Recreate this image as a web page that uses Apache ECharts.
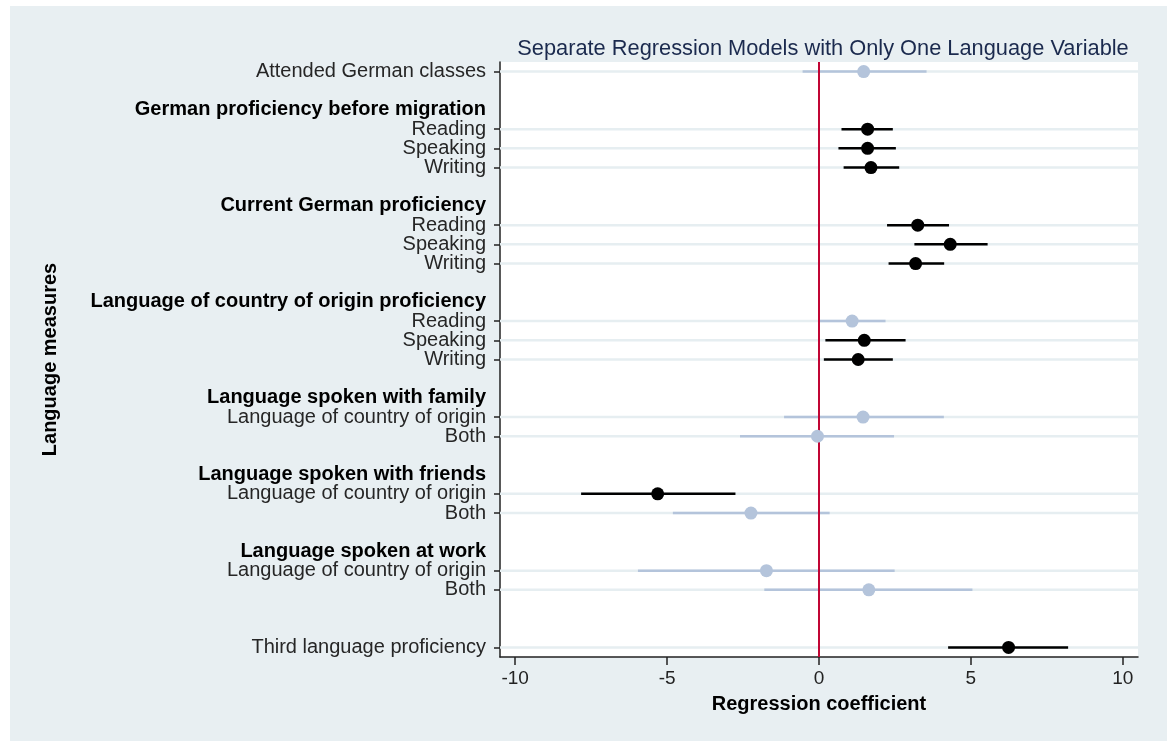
<!DOCTYPE html>
<html>
<head>
<meta charset="utf-8">
<title>Regression coefficients</title>
<script src="https://cdn.jsdelivr.net/npm/echarts@6/dist/echarts.min.js"></script>
<style>
  html, body { margin: 0; padding: 0; background: #fff; }
  #main { width: 1167px; height: 741px; }
</style>
</head>
<body>
<div id="main"></div>
<script>
// rows from top to bottom; headers have no estimate, '' is an empty spacer row
var rowLabels = [
  'Attended German classes', '',
  'German proficiency before migration', 'Reading', 'Speaking', 'Writing', '',
  'Current German proficiency', 'Reading', 'Speaking', 'Writing', '',
  'Language of country of origin proficiency', 'Reading', 'Speaking', 'Writing', '',
  'Language spoken with family', 'Language of country of origin', 'Both', '',
  'Language spoken with friends', 'Language of country of origin', 'Both', '',
  'Language spoken at work', 'Language of country of origin', 'Both', '', '',
  'Third language proficiency'
];
var headerRows = [2, 7, 12, 17, 21, 25];

// estimates and 95% CI per row (null where no model)
var estimate = [1.47, null, null, 1.60, 1.60, 1.71, null, null, 3.25, 4.32, 3.18, null,
  null, 1.09, 1.49, 1.29, null, null, 1.45, -0.05, null, null, -5.31, -2.24, null,
  null, -1.73, 1.64, null, null, 6.24];
var ciLow = [-0.54, null, null, 0.74, 0.64, 0.81, null, null, 2.24, 3.14, 2.29, null,
  null, -0.02, 0.21, 0.16, null, null, -1.15, -2.60, null, null, -7.83, -4.81, null,
  null, -5.96, -1.80, null, null, 4.25];
var ciHigh = [3.54, null, null, 2.43, 2.53, 2.64, null, null, 4.28, 5.55, 4.12, null,
  null, 2.19, 2.85, 2.43, null, null, 4.11, 2.47, null, null, -2.75, 0.35, null,
  null, 2.49, 5.05, null, null, 8.20];
// 1 = significant (black), 0 = not significant (light blue)
var significant = [0, 0, 0, 1, 1, 1, 0, 0, 1, 1, 1, 0, 0, 0, 1, 1, 0, 0, 0, 0, 0, 0, 1, 0, 0,
  0, 0, 0, 0, 0, 1];
var xTicks = [-10, -5, 0, 5, 10];

var BLACK = '#000000';
var LIGHT = '#b4c4db';
var GRID = '#e6eef1';
var FONT = 'Liberation Sans';

var dataRows = [];
rowLabels.forEach(function (l, i) { if (estimate[i] !== null) dataRows.push(i); });

var ciData = [], dotData = [];
dataRows.forEach(function (i) {
  ciData.push([ciLow[i], ciHigh[i], i, significant[i]]);
  dotData.push({ value: [estimate[i], i], itemStyle: { color: significant[i] ? BLACK : LIGHT, opacity: 1 } });
});

var chart = echarts.init(document.getElementById('main'));
chart.setOption({
  animation: false,
  backgroundColor: '#ffffff',
  textStyle: { fontFamily: FONT },
  graphic: [{
    type: 'rect', z: -10, silent: true,
    shape: { x: 10, y: 6, width: 1157, height: 735 },
    style: { fill: '#e8eff2' }
  }],
  title: {
    text: 'Separate Regression Models with Only One Language Variable',
    left: 818, top: 33, textAlign: 'center',
    textStyle: { fontFamily: FONT, fontSize: 21.8, fontWeight: 'normal', color: '#1b2a4e' }
  },
  grid: {
    left: 500, right: 29, top: 62, bottom: 84,
    show: true, backgroundColor: '#ffffff', borderWidth: 0
  },
  xAxis: {
    type: 'value', min: -10.5, max: 10.5,
    name: 'Regression coefficient', nameLocation: 'middle', nameGap: 37,
    nameTextStyle: { fontFamily: FONT, fontSize: 20, fontWeight: 'bold', color: '#000' },
    axisLine: { show: true, onZero: false, lineStyle: { color: '#222', width: 1.5 } },
    axisTick: { show: true, length: 8, customValues: xTicks, lineStyle: { color: '#222', width: 1.5 } },
    axisLabel: { customValues: xTicks, margin: 12, fontFamily: FONT, fontSize: 19, color: '#222' },
    splitLine: { show: false }
  },
  yAxis: {
    type: 'category', inverse: true, data: rowLabels,
    name: 'Language measures', nameLocation: 'middle', nameGap: 440, nameRotate: 90,
    nameTextStyle: { fontFamily: FONT, fontSize: 20, fontWeight: 'bold', color: '#000' },
    axisLine: { show: true, onZero: false, lineStyle: { color: '#222', width: 1.5 } },
    axisTick: {
      show: true, length: 6, alignWithLabel: true,
      interval: function (i) { return estimate[i] !== null; },
      lineStyle: { color: '#222', width: 1.5 }
    },
    splitLine: { show: false },
    axisLabel: {
      interval: 0, margin: 14,
      fontFamily: FONT, fontSize: 20, color: '#262626',
      formatter: function (v, i) {
        return headerRows.indexOf(i) >= 0 ? '{h|' + v + '}' : v;
      },
      rich: { h: { fontFamily: FONT, fontSize: 20, fontWeight: 'bold', color: '#000' } }
    }
  },
  series: [
    {
      // light horizontal guide for every estimated row, plus its CI line
      type: 'custom',
      data: ciData,
      encode: { x: [0, 1], y: 2 },
      z: 3,
      renderItem: function (params, api) {
        var a = api.coord([api.value(0), api.value(2)]);
        var b = api.coord([api.value(1), api.value(2)]);
        var cs = params.coordSys;
        return {
          type: 'group',
          children: [
            {
              type: 'line', z2: 0,
              shape: { x1: cs.x, y1: a[1], x2: cs.x + cs.width, y2: a[1] },
              style: { stroke: GRID, lineWidth: 2.5 }
            },
            {
              type: 'line', z2: 1,
              shape: { x1: a[0], y1: a[1], x2: b[0], y2: b[1] },
              style: { stroke: api.value(3) ? BLACK : LIGHT, lineWidth: 2.5 }
            }
          ]
        };
      }
    },
    {
      type: 'scatter',
      data: dotData,
      symbol: 'circle',
      symbolSize: 13,
      z: 5,
      markLine: {
        silent: true, symbol: 'none', label: { show: false },
        lineStyle: { color: '#c10534', width: 2, type: 'solid' },
        data: [{ xAxis: 0 }]
      }
    }
  ]
});
</script>
</body>
</html>
